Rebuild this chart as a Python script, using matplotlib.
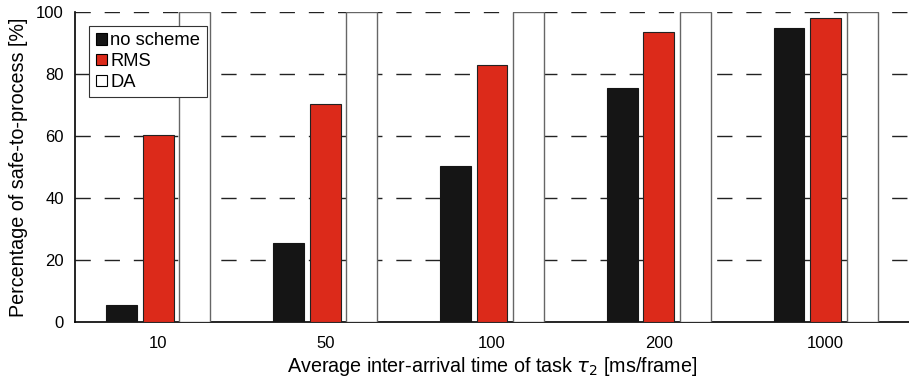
import numpy as np
import matplotlib
matplotlib.use('Agg')
import matplotlib.pyplot as plt

plt.rcParams['font.family'] = ['Liberation Sans', 'DejaVu Sans']
plt.rcParams['mathtext.fontset'] = 'dejavusans'

# données
categories = ['10', '50', '100', '200', '1000']
no_scheme = [5.5, 25.5, 50.5, 75.5, 95.0]
rms = [60.5, 70.5, 83.0, 93.5, 98.0]
da = [100, 100, 100, 100, 100]

fig = plt.figure(figsize=(9.09, 3.78), dpi=100)
ax = fig.add_axes([0.0825, 0.148, 0.9175, 0.82])

x = np.arange(len(categories))
width = 0.185
off = 0.219

ax.bar(x - off, no_scheme, width, color='#151515', edgecolor='#151515', lw=0.8, label='no scheme', zorder=3)
ax.bar(x, rms, width, color='#dc2a1a', edgecolor='#222222', lw=0.8, label='RMS', zorder=3)
ax.bar(x + off, da, width, color='white', edgecolor='#666666', lw=1.0, label='DA', zorder=3)

ax.set_xlim(-0.5, 4.5)
ax.set_ylim(0, 100)
ax.set_yticks([0, 20, 40, 60, 80, 100])
ax.set_xticks(x)
ax.set_xticklabels(categories)
ax.tick_params(axis='both', length=0, labelsize=12, pad=8)
ax.tick_params(axis='x', pad=10)

for v in [20, 40, 60, 80, 100]:
    ax.axhline(v, color='#222222', lw=1.0, ls=(0, (11, 10)), zorder=1)

ax.spines['top'].set_visible(False)
ax.spines['right'].set_visible(False)
ax.spines['left'].set_linewidth(1.2)
ax.spines['bottom'].set_linewidth(1.2)

ax.set_ylabel('Percentage of safe-to-process [%]', fontsize=14.2, labelpad=6)
ax.set_xlabel(r'Average inter-arrival time of task $\tau_2$ [ms/frame]', fontsize=14.2, labelpad=3)

leg = ax.legend(loc='upper left', bbox_to_anchor=(0.017, 0.955), fontsize=13.2,
                handlelength=0.6, handleheight=0.6, handletextpad=0.2,
                borderpad=0.35, labelspacing=0.2, fancybox=False, framealpha=1,
                borderaxespad=0)
leg.get_frame().set_edgecolor('#333333')
leg.get_frame().set_linewidth(0.8)
for h in leg.legend_handles:
    h.set_edgecolor('black')
    h.set_linewidth(0.8)

plt.savefig('out.png', dpi=100)
